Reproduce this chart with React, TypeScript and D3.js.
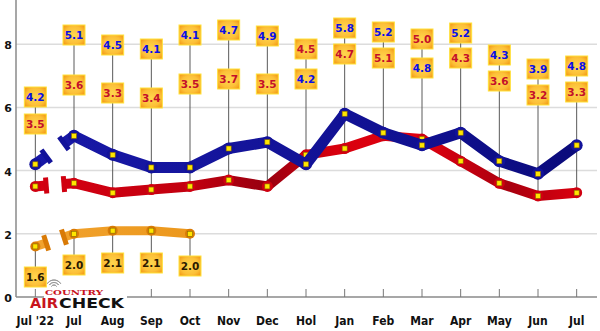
import React from "react";
import * as d3 from "d3";

const months = ["Jul '22", "Jul", "Aug", "Sep", "Oct", "Nov", "Dec", "Hol", "Jan", "Feb", "Mar", "Apr", "May", "Jun", "Jul"];
const blueShare = [4.2, 5.1, 4.5, 4.1, 4.1, 4.7, 4.9, 4.2, 5.8, 5.2, 4.8, 5.2, 4.3, 3.9, 4.8];
const redShare = [3.5, 3.6, 3.3, 3.4, 3.5, 3.7, 3.5, 4.5, 4.7, 5.1, 5.0, 4.3, 3.6, 3.2, 3.3];
const orangeShare = [1.6, 2.0, 2.1, 2.1, 2.0];
const yTicks = [0, 2, 4, 6, 8];

// callout placement (pixel centres of the stacked value tags)
const upperTagY = [97, 35, 45, 49, 35, 30, 36, 49, 28, 32, 39, 33, 55, 69, 66];
const lowerTagY = [124, 85, 93, 98, 84, 79, 84, 79, 54, 58, 68, 58, 81, 95, 92];
const orangeTagY = [277, 265, 263, 263, 266];

const W = 600;
const H = 331;
const left = 16;
const right = 596;
const base = 297;

const x = d3.scalePoint<number>().domain(d3.range(months.length)).range([left, right]).padding(0.5);
const y = d3.scaleLinear().domain([0, 9.4]).range([base, 0]);

const line = d3.line<[number, number]>().x((d) => d[0]).y((d) => d[1]);

type Series = {
  id: string;
  values: number[];
  width: number;
  stroke: string;
  cap: string;
  text: string;
  stops: [number, string][];
};

const series: Series[] = [
  {
    id: "orange",
    values: orangeShare,
    width: 9,
    stroke: "url(#g-orange)",
    cap: "#d97a06",
    text: "#2b1a00",
    stops: [[0, "#f2a431"], [0.5, "#e8900f"], [1, "#cf6a00"]],
  },
  {
    id: "red",
    values: redShare,
    width: 10,
    stroke: "url(#g-red)",
    cap: "#d00010",
    text: "#c4102a",
    stops: [[0, "#d80012"], [0.3, "#c2000f"], [0.43, "#980010"], [0.55, "#d8000e"], [0.7, "#e00010"], [0.85, "#a8000f"], [1, "#e8000f"]],
  },
  {
    id: "blue",
    values: blueShare,
    width: 11,
    stroke: "url(#g-blue)",
    cap: "#12129a",
    text: "#0a10e8",
    stops: [[0, "#1818a8"], [0.4, "#14149a"], [0.7, "#101090"], [1, "#0a0a78"]],
  },
];

function pts(values: number[]): [number, number][] {
  return values.map((v, i) => [x(i) as number, y(v)]);
}

// broken first segment: stub from the first point, a gap, then the rest
function BrokenLine({ s }: { s: Series }) {
  const p = pts(s.values);
  const [p0, p1] = p;
  const lerp = (t: number): [number, number] => [p0[0] + (p1[0] - p0[0]) * t, p0[1] + (p1[1] - p0[1]) * t];
  const c1 = lerp(0.28);
  const c2 = lerp(0.74);
  const ang = Math.atan2(p1[1] - p0[1], p1[0] - p0[0]);
  const nx = -Math.sin(ang) * 8;
  const ny = Math.cos(ang) * 8;
  return (
    <g>
      <path d={line([p0, c1]) ?? ""} fill="none" stroke={s.stroke} strokeWidth={s.width} strokeLinecap="butt" />
      <path d={line([c2, ...p.slice(1)]) ?? ""} fill="none" stroke={s.stroke} strokeWidth={s.width} strokeLinecap="butt" strokeLinejoin="round" />
      {[c1, c2].map((c, i) => (
        <line key={i} x1={c[0] - nx} y1={c[1] - ny} x2={c[0] + nx} y2={c[1] + ny} stroke={s.cap} strokeWidth={5} />
      ))}
      {p.map((q, i) => (
        <g key={i}>
          <circle cx={q[0]} cy={q[1]} r={s.width / 2 + 0.5} fill={s.cap} />
          <rect x={q[0] - 2.5} y={q[1] - 2.5} width={5} height={5} fill="#ffe600" stroke="#8a6a00" strokeWidth={0.6} />
        </g>
      ))}
    </g>
  );
}

function Tag({ cx, cy, label, color }: { cx: number; cy: number; label: string; color: string }) {
  return (
    <g>
      <rect x={cx - 11} y={cy - 10} width={22} height={20} fill="url(#g-tag)" stroke="#ffe23a" strokeWidth={1} />
      <text x={cx} y={cy + 4} textAnchor="middle" fontFamily="DejaVu Sans, Verdana, sans-serif" fontWeight="bold" fontSize={10.5} fill={color}>
        {label}
      </text>
    </g>
  );
}

export default function App() {
  const red = series[1];
  const blue = series[2];
  const orange = series[0];
  const wave = d3.arc<number>().innerRadius((r) => r).outerRadius((r) => r).startAngle(-1.0).endAngle(1.0);

  return (
    <svg width={W} height={H} style={{ position: "absolute", left: 0, top: 0, background: "#fff" }}>
      <defs>
        {series.map((s) => (
          <linearGradient key={s.id} id={`g-${s.id}`} gradientUnits="userSpaceOnUse" x1={left} x2={right} y1={0} y2={0}>
            {s.stops.map(([o, c], i) => (
              <stop key={i} offset={o} stopColor={c} />
            ))}
          </linearGradient>
        ))}
        <radialGradient id="g-tag" cx="50%" cy="50%" r="60%">
          <stop offset="0%" stopColor="#ffd64e" />
          <stop offset="70%" stopColor="#fcc038" />
          <stop offset="100%" stopColor="#f5a21c" />
        </radialGradient>
      </defs>

      {/* grid */}
      {yTicks.filter((t) => t > 0).map((t) => (
        <line key={t} x1={left} x2={right + 1} y1={y(t)} y2={y(t)} stroke="#dcdcdc" strokeWidth={1.5} />
      ))}
      {yTicks.map((t) => (
        <text key={t} x={8} y={y(t) + 5} textAnchor="middle" fontFamily="DejaVu Sans, sans-serif" fontWeight="bold" fontSize={11} fill="#111">
          {t}
        </text>
      ))}

      {/* axes */}
      <line x1={left} x2={left} y1={0} y2={base} stroke="#8a8a8a" strokeWidth={1.5} />
      <line x1={left} x2={right + 1} y1={base} y2={base} stroke="#8a8a8a" strokeWidth={1.5} />
      {months.map((_, i) => (
        <line key={i} x1={x(i)} x2={x(i)} y1={base - 8} y2={base} stroke="#777" strokeWidth={1} />
      ))}
      {months.map((m, i) => (
        <text key={i} x={x(i)} y={325} textAnchor="middle" fontFamily="DejaVu Sans Condensed, Liberation Sans Narrow, sans-serif" fontWeight="bold" fontSize={12} fill="#111">
          {m}
        </text>
      ))}

      {/* logo */}
      <g>
        <rect x={44} y={279} width={83} height={31} fill="#fff" />
        {[3, 5.5, 8].map((r) => (
          <path key={r} d={wave(r) ?? ""} transform="translate(54,288)" fill="none" stroke="#9a9a9a" strokeWidth={1} />
        ))}
        <text x={45} y={294.5} fontFamily="DejaVu Serif, serif" fontWeight="bold" fontSize={8} fill="#c8141c" textLength={58} lengthAdjust="spacingAndGlyphs">
          COUNTRY
        </text>
        <text x={30} y={308} fontFamily="DejaVu Sans, sans-serif" fontWeight="bold" fontSize={13.5} fill="#c8141c" textLength={28} lengthAdjust="spacingAndGlyphs">
          AIR
        </text>
        <text x={59} y={308} fontFamily="DejaVu Sans, sans-serif" fontWeight="bold" fontSize={13.5} fill="#111" textLength={65} lengthAdjust="spacingAndGlyphs">
          CHECK
        </text>
      </g>

      {/* drop lines from the tags to the points */}
      {months.map((_, i) => (
        <line key={i} x1={x(i)} x2={x(i)} y1={upperTagY[i]} y2={Math.max(y(redShare[i]), y(blueShare[i]))} stroke="#5a5a5a" strokeWidth={1} />
      ))}
      {orangeShare.map((v, i) => (
        <line key={i} x1={x(i)} x2={x(i)} y1={y(v)} y2={orangeTagY[i]} stroke="#5a5a5a" strokeWidth={1} />
      ))}

      <BrokenLine s={orange} />
      <BrokenLine s={red} />
      <BrokenLine s={blue} />

      {/* value tags */}
      {months.map((_, i) => {
        const redUp = redShare[i] > blueShare[i];
        const top = redUp ? red : blue;
        const bot = redUp ? blue : red;
        return (
          <g key={i}>
            <Tag cx={x(i) as number} cy={upperTagY[i]} label={top.values[i].toFixed(1)} color={top.text} />
            <Tag cx={x(i) as number} cy={lowerTagY[i]} label={bot.values[i].toFixed(1)} color={bot.text} />
          </g>
        );
      })}
      {orangeShare.map((v, i) => (
        <Tag key={i} cx={x(i) as number} cy={orangeTagY[i]} label={v.toFixed(1)} color={orange.text} />
      ))}
    </svg>
  );
}
